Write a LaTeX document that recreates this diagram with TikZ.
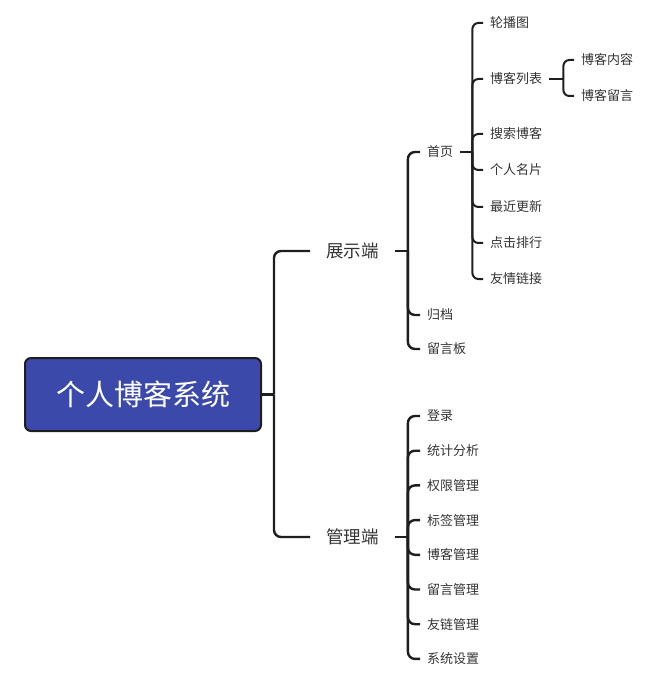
\documentclass[tikz,border=0pt]{standalone}
\usepackage{fontspec}
\newfontfamily\cjk{Noto Sans CJK SC}
\definecolor{rootfill}{HTML}{3A49AA}
\definecolor{linecol}{HTML}{1E1E1E}
\definecolor{textcol}{HTML}{333333}
\tikzset{
  rootbox/.style={draw=linecol, line width=2pt, fill=rootfill, rounded corners=6pt,
    minimum width=236pt, minimum height=73pt, text=white, font=\cjk\fontsize{29}{34}\selectfont},
  midnode/.style={anchor=west, inner xsep=16pt, inner ysep=2pt, text=textcol,
    font=\cjk\fontsize{17.5}{20}\selectfont},
  leafnode/.style={anchor=west, inner xsep=7pt, inner ysep=2pt, text=textcol,
    font=\cjk\fontsize{13}{16}\selectfont},
  bigline/.style={draw=linecol, line width=2.4pt, rounded corners=7pt},
  smallline/.style={draw=linecol, line width=2pt, rounded corners=6pt},
}

\begin{document}
\begin{tikzpicture}[x=1pt,y=-1pt]
        \useasboundingbox (0,0) rectangle (660,684);

        % root and its two sides
        \node (root) at (143,394.5) [rootbox] {个人博客系统};
        \node (show) at (310,251) [midnode] {展示端};
        \node (admin) at (310,537) [midnode] {管理端};
        \coordinate (rootj) at ([xshift=12pt]root.east);
        \draw[bigline] (root.east) -- (rootj);
        \draw[bigline] (rootj) |- (show.west);
        \draw[bigline] (rootj) |- (admin.west);

        % display side
        \node (home) at (420,152) [leafnode] {首页};
        \node (archive) at (420,315) [leafnode] {归档};
        \node (board) at (420,349) [leafnode] {留言板};
        \coordinate (showj) at ([xshift=13pt]show.east);
        \draw[bigline] (show.east) -- (showj);
        \foreach \c in {home,archive,board}
            \draw[bigline] (showj) |- (\c.west);

        % home page parts
        \foreach \y/\t [count=\i] in {23/轮播图,79/博客列表,134/搜索博客,170/个人名片,207/最近更新,243/点击排行,279/友情链接}
            \node (home\i) at (483,\y) [leafnode] {\t};
        \coordinate (homej) at ([xshift=12pt]home.east);
        \draw[smallline] (home.east) -- (homej);
        \foreach \i in {1,...,7}
            \draw[smallline] (homej) |- (home\i.west);

        % blog list
        \node (post) at (574,60) [leafnode] {博客内容};
        \node (comment) at (574,96) [leafnode] {博客留言};
        \coordinate (listj) at ([xshift=14pt]home2.east);
        \draw[smallline] (home2.east) -- (listj);
        \draw[smallline] (listj) |- (post.west);
        \draw[smallline] (listj) |- (comment.west);

        % admin side
        \foreach \t [count=\i] in {登录,统计分析,权限管理,标签管理,博客管理,留言管理,友链管理,系统设置}
            \node (admin\i) at (420,{381.3+34.7*\i}) [leafnode] {\t};
        \coordinate (adminj) at ([xshift=13pt]admin.east);
        \draw[bigline] (admin.east) -- (adminj);
        \foreach \i in {1,...,8}
            \draw[bigline] (adminj) |- (admin\i.west);
\end{tikzpicture}
\end{document}
